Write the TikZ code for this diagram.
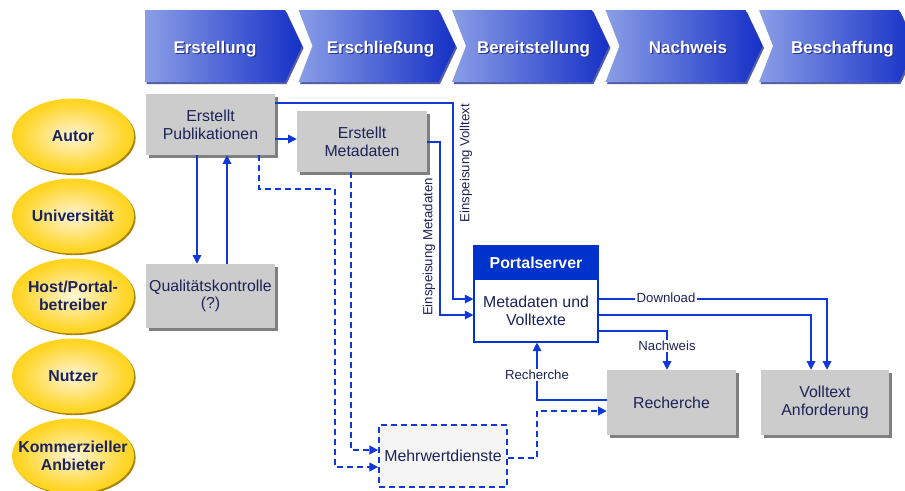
\documentclass[tikz,border=0pt]{standalone}
\usepackage{fontspec}
\setmainfont{Liberation Sans}
\usetikzlibrary{shapes.geometric,arrows.meta,calc,shadows}
\definecolor{lblue}{HTML}{1038D8}
\definecolor{hdr}{HTML}{0033CC}
\definecolor{navy}{HTML}{1C2358}
\definecolor{boxgray}{HTML}{CCCCCC}
\definecolor{shgray}{HTML}{7F7F7F}
\definecolor{chevL}{HTML}{8A9EE6}
\definecolor{chevR}{HTML}{1530C6}
\definecolor{chevS}{HTML}{2A3590}
\definecolor{goldA}{HTML}{FFF7D8}
\definecolor{goldA2}{HTML}{FFECA8}
\definecolor{goldB}{HTML}{FFD628}
\definecolor{goldC}{HTML}{F5C200}
\definecolor{goldD}{HTML}{EEBA00}
\definecolor{goldsh}{HTML}{A88200}
\definecolor{mwbg}{HTML}{F5F5F5}
\pgfdeclareradialshading{ellsh}{\pgfpoint{0bp}{0bp}}{color(0bp)=(goldA); color(6bp)=(goldA2); color(22bp)=(goldB); color(40bp)=(goldC); color(50bp)=(goldD); color(70bp)=(goldD)}
\newcommand\ellipsetext[1]{\makebox[0pt]{\raisebox{-4.6pt}[0pt][0pt]{\begin{tabular}{@{}c@{}}#1\end{tabular}}}}
\begin{document}
\begin{tikzpicture}[x=0.75pt,y=-0.75pt,
  con/.style={draw=lblue, line width=0.9pt, -{Triangle[length=6.5pt,width=6.5pt]}},
  dcon/.style={con, line width=1.3pt, dash pattern=on 4.5pt off 3pt},
  graybox/.style={rectangle, fill=boxgray, draw=none, text=navy, font=\fontsize{11.9}{13.3}\selectfont, align=center, inner sep=0pt,
    drop shadow={shadow xshift=2.2pt, shadow yshift=-2.2pt, fill=shgray, opacity=1}},
  role/.style={ellipse, shade, shading=ellsh, minimum width=91.5pt, minimum height=56.25pt, inner sep=0pt, text=navy,
    font=\fontsize{11.9}{13.3}\selectfont\bfseries,
    drop shadow={shadow xshift=1.2pt, shadow yshift=-1.2pt, fill=goldsh, opacity=1}},
  chevtext/.style={text=white, font=\fontsize{12.7}{14}\selectfont\bfseries, anchor=base},
  chevshadow/.style={text=chevS, font=\fontsize{12.7}{14}\selectfont\bfseries, anchor=base},
  lbl/.style={text=navy, font=\fontsize{9.9}{11}\selectfont, inner sep=1pt},
]
\path[use as bounding box] (0,0) rectangle (905,490);
\clip (0,0) rectangle (905,490);

% chevrons
\foreach \i/\t/\tx in {0/Erstellung/215, 1/Erschließung/380.5, 2/Bereitstellung/533.5, 3/Nachweis/688, 4/Beschaffung/842.5}{
  \pgfmathsetmacro\xo{145+153.5*\i}
  \pgfmathsetmacro\nd{\i==0 ? 0 : 14}
  \fill[chevS, opacity=0.8] (\xo+1.5,12) -- (\xo+141.5,12) -- (\xo+158.5,48) -- (\xo+141.5,84) -- (\xo+1.5,84) -- (\xo+\nd+1.5,48) -- cycle;
  \shade[left color=chevL, right color=chevR] (\xo,10) -- (\xo+140,10) -- (\xo+157,46) -- (\xo+140,82) -- (\xo,82) -- (\xo+\nd,46) -- cycle;
  \node[chevshadow] (cs\i) at (\tx+1.2,54.2) {\t};
  \node[chevtext] (ct\i) at (\tx,53) {\t};
}

% role ellipses
\node[role] (aut) at (73,136) {\ellipsetext{Autor}};
\node[role] (uni) at (73,216) {\ellipsetext{Universität}};
\node[role] (host) at (73,296) {\ellipsetext{Host/Portal-\\betreiber}};
\node[role] (nutz) at (73,376) {\ellipsetext{Nutzer}};
\node[role] (komm) at (73,456) {\ellipsetext{Kommerzieller\\Anbieter}};

% boxes
\node[graybox, minimum width=96.75pt, minimum height=45.75pt] (pub) at (210.5,124.5) {Erstellt\\Publikationen};
\node[graybox, minimum width=97.5pt, minimum height=45.75pt] (meta) at (362,141.5) {Erstellt\\Metadaten};
\node[graybox, minimum width=96.75pt, minimum height=48pt] (qual) at (210.5,296) {Qualitätskontrolle\\(?)};
\node[graybox, minimum width=96.75pt, minimum height=48.75pt] (rech) at (671.5,402.5) {Recherche};
\node[graybox, minimum width=96pt, minimum height=48.75pt] (voll) at (825,402.5) {Volltext\\Anforderung};
\node[rectangle, fill=mwbg, draw=lblue, line width=1.3pt, dash pattern=on 4.5pt off 3pt, minimum width=96pt, minimum height=46.5pt,
  text=navy, font=\fontsize{11.9}{13.3}\selectfont] (mehr) at (443,456) {Mehrwertdienste};

% portal server
\node[rectangle, fill=hdr, draw=hdr, line width=0.8pt, minimum width=93pt, minimum height=24.75pt, inner sep=0pt,
  text=white, font=\fontsize{11.9}{13.3}\selectfont\bfseries] (psh) at (536,262.5) {Portalserver};
\node[rectangle, fill=white, draw=hdr, line width=0.8pt, minimum width=93pt, minimum height=47.25pt, inner sep=0pt,
  text=navy, font=\fontsize{11.9}{13.3}\selectfont, align=center] (ps) at (536,310.5) {Metadaten und\\Volltexte};

% connectors
\draw[con] (pub.south -| 197,0) -- (qual.north -| 197,0);
\draw[con] (qual.north -| 227,0) -- (pub.south -| 227,0);
\draw[con] (pub.east |- 0,139) -- (meta.west |- 0,139);
\draw[con] (pub.east |- 0,103) -- (453,103) -- (453,299) -- (ps.west |- 0,299);
\draw[con] (meta.east |- 0,142) -- (440,142) -- (440,315) -- (ps.west |- 0,315);
\node[lbl, rotate=90] (lvt) at (466,163) {Einspeisung Volltext};
\node[lbl, rotate=90] (lmd) at (429,247) {Einspeisung Metadaten};

\draw[dcon] (pub.south -| 259,0) -- (259,189) -- (335,189) -- (335,467) -- (mehr.west |- 0,467);
\draw[dcon] (meta.south -| 351,0) -- (351,450) -- (mehr.west |- 0,450);
\draw[dcon] (mehr.east |- 0,458) -- (537,458) -- (537,411) -- (rech.west |- 0,411);

\draw[con] (rech.west |- 0,400) -- (537,400) -- (ps.south -| 537,0);
\node[lbl, fill=white] (lre) at (537,375) {Recherche};

\draw[con] (ps.east |- 0,299) -- (827,299) -- (voll.north -| 827,0);
\node[lbl, fill=white] (ldl) at (666,298) {Download};
\draw[con] (ps.east |- 0,315) -- (811,315) -- (voll.north -| 811,0);
\draw[con] (ps.east |- 0,331) -- (667,331) -- (rech.north -| 667,0);
\node[lbl, fill=white] (lnw) at (667,346) {Nachweis};
\end{tikzpicture}
\end{document}
